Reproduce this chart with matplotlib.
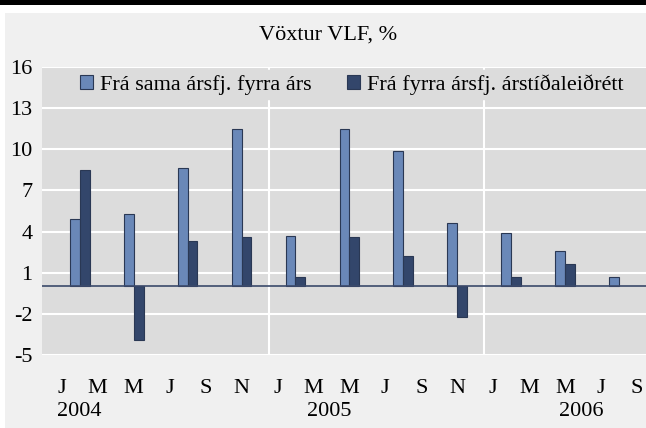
import numpy as np
import matplotlib.pyplot as plt
from matplotlib.patches import Rectangle

plt.rcParams['font.family'] = ['Liberation Serif', 'DejaVu Serif']
plt.rcParams['axes.unicode_minus'] = False

# month index: 0 = January 2004; bars sit at the middle month of each quarter
quarter_pos = [1, 4, 7, 10, 13, 16, 19, 22, 25, 28, 31]
yoy = [4.9, 5.3, 8.6, 11.5, 3.7, 11.5, 9.9, 4.6, 3.9, 2.6, 0.7]
qoq_sa = [8.5, -3.9, 3.3, 3.6, 0.7, 3.6, 2.2, -2.2, 0.7, 1.6, np.nan]

month_labels = ["J", "M", "M", "J", "S", "N"] * 2 + ["J", "M", "M", "J", "S"]
years = ["2004", "2005", "2006"]
year_label_pos = [1.0, 14.9, 28.9]

labels = ["Frá sama ársfj. fyrra árs", "Frá fyrra ársfj. árstíðaleiðrétt"]
title = "Vöxtur VLF, %"

light = "#6a88b8"
dark = "#33466b"
edge = "#2a3854"
plot_bg = "#dcdcdc"
fig_bg = "#f0f0f0"

fig = plt.figure(figsize=(6.46, 4.28), dpi=100, facecolor="white")
# grey chart background and black rule on top
fig.patches.append(Rectangle((5 / 646, 0), 1, 415 / 428, transform=fig.transFigure,
                             facecolor=fig_bg, edgecolor="none", zorder=-10))
fig.patches.append(Rectangle((0, 423 / 428), 1, 5 / 428, transform=fig.transFigure,
                             facecolor="black", edgecolor="none", zorder=-10))

ax = fig.add_axes([42 / 646, 73 / 428, 604 / 646, 288 / 428])
ax.set_facecolor(plot_bg)

x = np.array(quarter_pos, dtype=float)
w = 0.55
ax.bar(x - w / 2, yoy, width=w, color=light, edgecolor=edge, linewidth=0.8,
       label=labels[0], zorder=3)
ax.bar(x + w / 2, qoq_sa, width=w, color=dark, edgecolor=edge, linewidth=0.8,
       label=labels[1], zorder=3)

ax.axhline(0, color="#3b4a6b", linewidth=1.2, zorder=4)

ax.set_ylim(-5, 16)
ax.set_yticks(np.arange(-5, 17, 3))
ax.set_xlim(-1.1, 32.5)
ax.set_xticks(np.arange(0, 33, 2))
ax.set_xticklabels(month_labels)

ax.grid(axis="y", color="white", linewidth=1.5, zorder=1)
for xv in [11.5, 23.5]:
    ax.axvline(xv, color="white", linewidth=1.5, zorder=1)

for s in ax.spines.values():
    s.set_visible(False)
ax.tick_params(axis="both", length=0, labelsize=16, colors="black")
ax.tick_params(axis="y", pad=7)
ax.tick_params(axis="x", pad=17)

for yr, xp in zip(years, year_label_pos):
    ax.text(xp, -0.195, yr, transform=ax.get_xaxis_transform(), ha="center",
            va="center", fontsize=16)

fig.text(328 / 646, 1 - 35 / 428, title, ha="center", va="center", fontsize=16)

leg = ax.legend(loc="upper center", bbox_to_anchor=(0.513, 0.99), ncol=2,
                fontsize=16, frameon=True, fancybox=False, facecolor=plot_bg,
                edgecolor=plot_bg, framealpha=1, handlelength=0.6, handleheight=0.6,
                handletextpad=0.3, columnspacing=1.6, borderaxespad=0, borderpad=0.2)
leg.set_zorder(5)

plt.savefig("out.png", dpi=100, facecolor=fig.get_facecolor())
